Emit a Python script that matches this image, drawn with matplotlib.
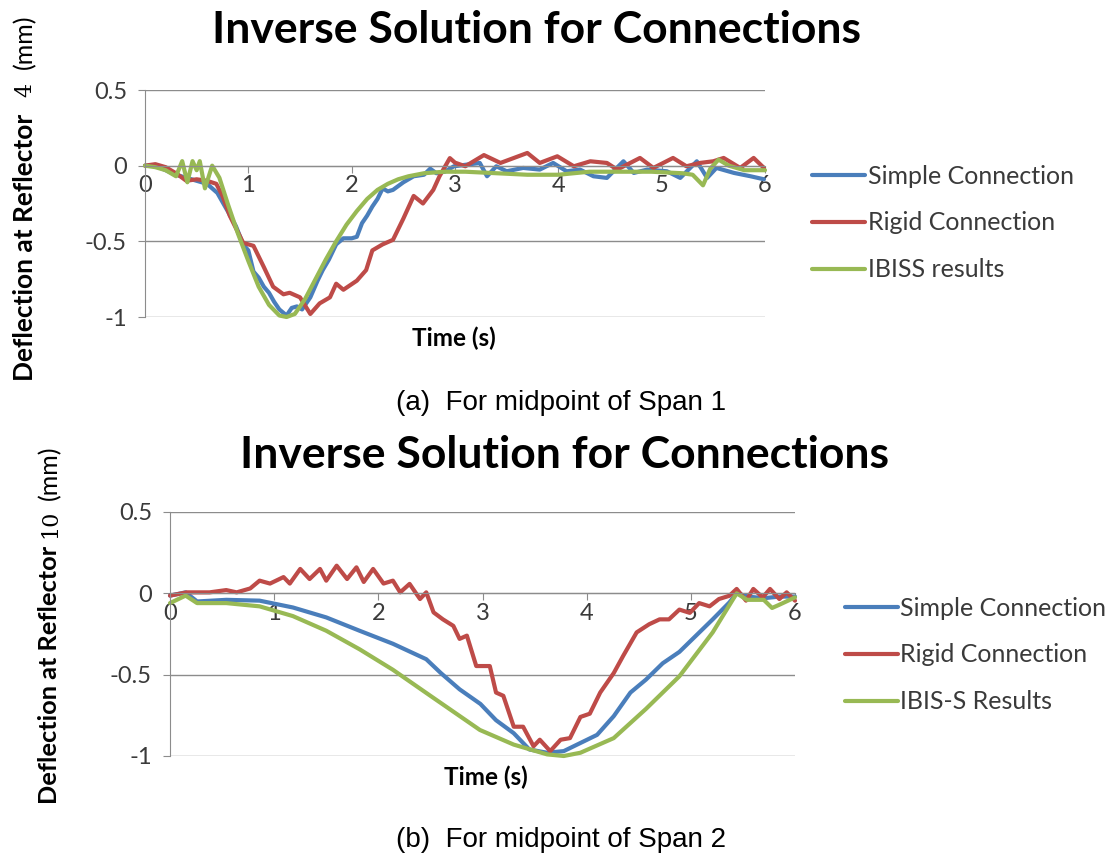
import matplotlib.pyplot as plt
from matplotlib.ticker import FixedLocator

plt.rcParams['font.family'] = ['Lato', 'DejaVu Sans']

# ---- data (time in s, deflection in mm) ----
# span 1
t1_simple = [0, 0.1, 0.2, 0.3, 0.4, 0.5, 0.6, 0.7, 0.8, 0.88, 0.95, 1.0, 1.05, 1.1, 1.15, 1.2, 1.25,
             1.3, 1.37, 1.42, 1.47, 1.52, 1.6, 1.67, 1.72, 1.78, 1.85, 1.92, 2.0, 2.05, 2.1, 2.15,
             2.2, 2.25, 2.3, 2.35, 2.4, 2.5, 2.6, 2.7, 2.76, 2.82, 2.9, 2.99, 3.24, 3.31, 3.4, 3.5,
             3.66, 3.82, 3.95, 4.08, 4.21, 4.34, 4.47, 4.63, 4.73, 4.86, 5.05, 5.18, 5.34, 5.44,
             5.53, 5.7, 5.86, 5.99]
y1_simple = [0, 0.0, -0.03, -0.06, -0.08, -0.1, -0.12, -0.18, -0.3, -0.4, -0.52, -0.56, -0.7, -0.74,
             -0.8, -0.84, -0.9, -0.95, -0.99, -0.94, -0.93, -0.95, -0.87, -0.76, -0.69, -0.62, -0.52,
             -0.48, -0.48, -0.47, -0.38, -0.33, -0.27, -0.22, -0.15, -0.17, -0.16, -0.11, -0.07,
             -0.06, -0.02, -0.05, -0.04, -0.004, 0.018, -0.07, -0.004, -0.037, -0.015, -0.026,
             0.018, -0.037, -0.026, -0.07, -0.081, 0.029, -0.048, -0.026, -0.037, -0.081, 0.029,
             -0.081, -0.015, -0.048, -0.07, -0.09]

t1_rigid = [0, 0.1, 0.2, 0.3, 0.4, 0.5, 0.6, 0.69, 0.75, 0.82, 0.95, 1.05, 1.15, 1.24, 1.34, 1.4,
            1.5, 1.6, 1.69, 1.79, 1.85, 1.92, 2.05, 2.14, 2.2, 2.3, 2.4, 2.5, 2.6, 2.69, 2.79, 2.85,
            2.95, 3.0, 3.1, 3.28, 3.44, 3.57, 3.7, 3.82, 3.99, 4.15, 4.31, 4.47, 4.57, 4.79, 4.92,
            5.11, 5.24, 5.37, 5.5, 5.6, 5.76, 5.89, 5.99]
y1_rigid = [0, 0.01, -0.01, -0.05, -0.1, -0.09, -0.1, -0.12, -0.2, -0.33, -0.51, -0.53, -0.67, -0.8,
            -0.85, -0.84, -0.87, -0.98, -0.91, -0.87, -0.78, -0.82, -0.76, -0.69, -0.56, -0.52,
            -0.49, -0.35, -0.2, -0.25, -0.16, -0.07, 0.05, 0.02, -0.004, 0.07, 0.018, 0.051, 0.084,
            0.018, 0.062, -0.004, 0.029, 0.018, -0.026, 0.051, -0.015, 0.051, -0.004, 0.018, 0.029,
            0.051, -0.015, 0.051, -0.015]

t1_ibis = [0, 0.1, 0.2, 0.3, 0.36, 0.41, 0.46, 0.5, 0.53, 0.58, 0.65, 0.72, 0.8, 0.9, 1.0, 1.1, 1.2,
           1.3, 1.37, 1.45, 1.55, 1.65, 1.75, 1.85, 1.95, 2.05, 2.15, 2.25, 2.35, 2.45, 2.55, 2.7,
           2.9, 3.1, 3.4, 3.7, 4.0, 4.3, 4.6, 4.9, 5.2, 5.3, 5.4, 5.47, 5.55, 5.65, 5.8, 6.0]
y1_ibis = [0, -0.01, -0.03, -0.07, 0.03, -0.11, 0.03, -0.03, 0.03, -0.15, 0.0, -0.08, -0.25, -0.45,
           -0.63, -0.8, -0.92, -0.99, -1.0, -0.98, -0.88, -0.75, -0.62, -0.5, -0.39, -0.3, -0.22,
           -0.16, -0.12, -0.09, -0.07, -0.05, -0.04, -0.04, -0.05, -0.06, -0.06, -0.04, -0.04,
           -0.04, -0.05, -0.06, -0.13, -0.02, 0.04, 0.0, -0.03, -0.03]

# span 2
t2_simple = [0, 0.15, 0.26, 0.54, 0.86, 1.18, 1.5, 1.82, 2.14, 2.46, 2.6, 2.78, 2.98, 3.13, 3.3, 3.45,
             3.62, 3.78, 3.94, 4.1, 4.26, 4.42, 4.57, 4.73, 4.89, 5.05, 5.21, 5.37, 5.44, 5.55, 5.7,
             5.85, 6.0]
y2_simple = [-0.014, 0.006, -0.05, -0.04, -0.045, -0.087, -0.148, -0.23, -0.31, -0.405, -0.49, -0.59,
             -0.68, -0.78, -0.86, -0.96, -0.98, -0.97, -0.92, -0.87, -0.755, -0.61, -0.53, -0.43,
             -0.36, -0.26, -0.16, -0.056, 0.0, -0.02, -0.03, -0.02, -0.02]

t2_rigid = [0, 0.16, 0.38, 0.54, 0.64, 0.77, 0.86, 0.96, 1.09, 1.15, 1.25, 1.34, 1.44, 1.5, 1.6, 1.7,
            1.79, 1.86, 1.95, 2.05, 2.14, 2.21, 2.3, 2.4, 2.46, 2.53, 2.62, 2.72, 2.78, 2.85, 2.94,
            3.07, 3.13, 3.2, 3.3, 3.39, 3.49, 3.55, 3.65, 3.75, 3.84, 3.94, 4.03, 4.13, 4.26, 4.35,
            4.48, 4.6, 4.7, 4.79, 4.89, 4.99, 5.08, 5.18, 5.27, 5.37, 5.44, 5.53, 5.6, 5.69, 5.76,
            5.85, 5.92, 6.0]
y2_rigid = [-0.014, 0.006, 0.006, 0.02, 0.006, 0.03, 0.078, 0.06, 0.1, 0.06, 0.15, 0.088, 0.15,
            0.078, 0.17, 0.088, 0.16, 0.07, 0.15, 0.06, 0.078, 0.006, 0.058, -0.035, 0.006, -0.117,
            -0.16, -0.2, -0.28, -0.26, -0.447, -0.447, -0.61, -0.63, -0.82, -0.82, -0.94, -0.9,
            -0.97, -0.9, -0.89, -0.76, -0.74, -0.61, -0.49, -0.385, -0.24, -0.19, -0.16, -0.16,
            -0.1, -0.12, -0.06, -0.08, -0.035, -0.015, 0.027, -0.045, 0.027, -0.025, 0.027, -0.035,
            0.006, -0.045]

t2_ibis = [0, 0.15, 0.26, 0.54, 0.86, 1.18, 1.5, 1.82, 2.14, 2.5, 2.975, 3.3, 3.62, 3.78, 3.94,
           4.26, 4.57, 4.89, 5.21, 5.44, 5.54, 5.7, 5.78, 5.85, 6.0]
y2_ibis = [-0.06, -0.014, -0.06, -0.06, -0.08, -0.14, -0.23, -0.344, -0.47, -0.63, -0.84, -0.93,
           -0.99, -1.0, -0.98, -0.89, -0.71, -0.51, -0.24, 0.0, -0.04, -0.04, -0.09, -0.07, -0.025]

x_ticks = [0, 1, 2, 3, 4, 5, 6]
y_ticks = [0.5, 0, -0.5, -1]

c_blue = "#4a7ebb"
c_red = "#be4b48"
c_green = "#98b954"
grid_c = "#8c8c8c"
txt_c = "#3a3a3a"

W, H = 1117, 857
fig = plt.figure(figsize=(W / 100, H / 100), dpi=100)


def px(x, y):
    return x / W, 1 - y / H


def panel(left, top, right, bottom, series, labels, leg_xy):
    x0, y1 = px(left, top)
    x1, y0 = px(right, bottom)
    ax = fig.add_axes([x0, y0, x1 - x0, y1 - y0])
    lines = []
    for (t, y), col in zip(series, [c_blue, c_red, c_green]):
        l, = ax.plot(t, y, color=col, lw=3, clip_on=False, solid_capstyle='round')
        lines.append(l)
    ax.set_xlim(0, 6)
    ax.set_ylim(-1, 0.5)
    ax.xaxis.set_major_locator(FixedLocator(x_ticks))
    ax.yaxis.set_major_locator(FixedLocator(y_ticks))
    ax.set_yticklabels([str(v) for v in y_ticks])
    ax.grid(axis='y', color=grid_c, lw=1)
    for s in ['top', 'right']:
        ax.spines[s].set_visible(False)
    ax.spines['bottom'].set_position(('data', 0))
    ax.spines['bottom'].set_color(grid_c)
    ax.spines['left'].set_color(grid_c)
    ax.tick_params(axis='both', colors=grid_c, labelcolor=txt_c, labelsize=17, length=5)
    ax.tick_params(axis='y', pad=8)
    ax.tick_params(axis='x', pad=2)
    ax.set_axisbelow(True)
    fig.legend(lines, labels, loc='center left', bbox_to_anchor=px(*leg_xy),
               frameon=False, fontsize=18, handlelength=2.1, handletextpad=0.12,
               labelspacing=0.95, borderpad=0, borderaxespad=0, labelcolor=txt_c)
    return ax


# (a) span 1
panel(145, 90, 765, 317,
      [(t1_simple, y1_simple), (t1_rigid, y1_rigid), (t1_ibis, y1_ibis)],
      ["Simple Connection", "Rigid Connection", "IBISS results"], (812, 223))
fig.text(*px(536, 30), "Inverse Solution for Connections", ha='center', va='center',
         fontsize=32, fontweight='bold')
fig.text(*px(454, 338), "Time (s)", ha='center', va='center', fontsize=17.5, fontweight='bold')
fig.text(*px(25, 381), "Deflection at Reflector", rotation=90, ha='center', va='bottom',
         fontsize=18.9, fontweight='bold')
fig.text(*px(25, 90), "4", rotation=90, ha='center', va='center', fontsize=16,
         family='DejaVu Serif')
fig.text(*px(25, 42), "(mm)", rotation=90, ha='center', va='center', fontsize=18)
fig.text(*px(561, 403), "(a)  For midpoint of Span 1", ha='center', va='center',
         fontsize=20, family='Liberation Sans')

# (b) span 2
panel(170, 512, 795, 756,
      [(t2_simple, y2_simple), (t2_rigid, y2_rigid), (t2_ibis, y2_ibis)],
      ["Simple Connection", "Rigid Connection", "IBIS-S Results"], (845, 655))
fig.text(*px(565, 455), "Inverse Solution for Connections", ha='center', va='center',
         fontsize=32, fontweight='bold')
fig.text(*px(486, 777), "Time (s)", ha='center', va='center', fontsize=17.5, fontweight='bold')
fig.text(*px(50, 804), "Deflection at Reflector", rotation=90, ha='center', va='bottom',
         fontsize=18.3, fontweight='bold')
fig.text(*px(50, 524), "10", rotation=90, ha='center', va='center', fontsize=16,
         family='DejaVu Serif')
fig.text(*px(50, 473), "(mm)", rotation=90, ha='center', va='center', fontsize=18)
fig.text(*px(561, 840), "(b)  For midpoint of Span 2", ha='center', va='center',
         fontsize=20, family='Liberation Sans')

fig.savefig("out.png", dpi=100)
